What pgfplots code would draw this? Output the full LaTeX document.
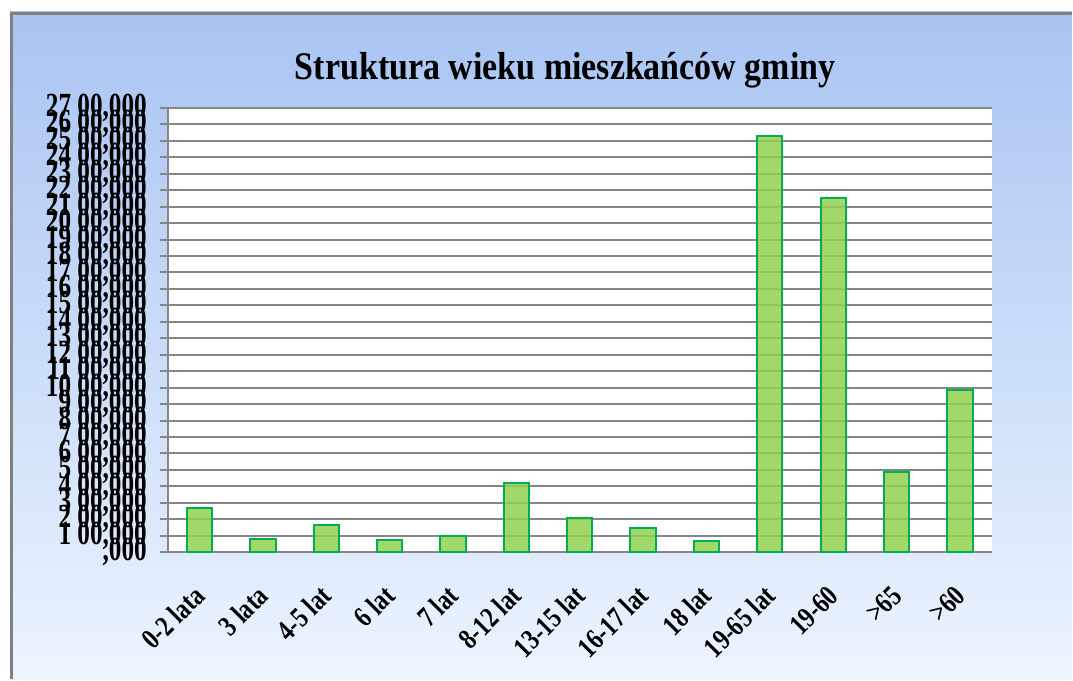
\documentclass[border=0pt]{standalone}
\usepackage{fontspec}
\setmainfont{Liberation Serif}
\usepackage{pgfplots}
\pgfplotsset{compat=1.18}
\definecolor{bgtop}{RGB}{168,196,242}
\definecolor{bgbot}{RGB}{236,244,254}
\definecolor{barfill}{RGB}{146,208,80}
\definecolor{baredge}{RGB}{0,176,80}
\definecolor{gridc}{RGB}{134,134,134}
\newcommand\yl[1]{\scalebox{0.97}[1.3]{#1}}
\newcommand\xl[1]{\scalebox{0.9}[1.12]{#1}}
\begin{document}
\begin{tikzpicture}[x=1pt,y=1pt]
\fill[white] (0,0) rectangle (536.5,340);
\shade[top color=bgtop, bottom color=bgbot] (5,0) rectangle (536.5,334);
\draw[gray, line width=1.5pt] (5.75,0) -- (5.75,333.25) -- (536.5,333.25);
\node[font=\fontsize{17}{20}\selectfont\bfseries] at (283,305) {\scalebox{1}[1.15]{Struktura wieku mieszkańców gminy}};
\begin{axis}[
  at={(84pt,63.5pt)}, anchor=south west,
  scale only axis, width=412.5pt, height=222.5pt,
  axis background/.style={fill=white},
  xmin=-0.5, xmax=12.5, ymin=0, ymax=2700,
  axis x line*=bottom, axis y line*=left,
  axis line style={gridc, line width=1pt, -},
  ytick={0,100,...,2700},
  yticklabels={\yl{,000},\yl{1 00,000},\yl{2 00,000},\yl{3 00,000},\yl{4 00,000},\yl{5 00,000},\yl{6 00,000},\yl{7 00,000},\yl{8 00,000},\yl{9 00,000},\yl{10 00,000},\yl{11 00,000},\yl{12 00,000},\yl{13 00,000},\yl{14 00,000},\yl{15 00,000},\yl{16 00,000},\yl{17 00,000},\yl{18 00,000},\yl{19 00,000},\yl{20 00,000},\yl{21 00,000},\yl{22 00,000},\yl{23 00,000},\yl{24 00,000},\yl{25 00,000},\yl{26 00,000},\yl{27 00,000}},
  xtick={0,...,12},
  xticklabels={\xl{0-2 lata},\xl{3 lata},\xl{4-5 lat},\xl{6 lat},\xl{7 lat},\xl{8-12 lat},\xl{13-15 lat},\xl{16-17 lat},\xl{18 lat},\xl{19-65 lat},\xl{19-60},\xl{>65},\xl{>60}},
  x tick style={draw=none},
  extra x ticks={-0.5,0.5,...,12.5},
  extra x tick labels={},
  extra x tick style={major tick length=4pt, tick style={draw=gridc, line width=1pt}},
  tick align=outside, major tick length=4pt,
  y tick style={gridc, line width=1pt},
  ymajorgrids, major grid style={gridc, line width=1pt},
  ticklabel style={font=\fontsize{13}{13}\selectfont\bfseries},
  yticklabel style={anchor=east, xshift=-3pt},
  xticklabel style={xshift=2.5pt, yshift=-13pt, rotate=45, anchor=east},
  ybar, bar width=0.4,
  clip=false,
]
\addplot[fill=barfill, fill opacity=0.85, draw=baredge, line width=1pt] coordinates {
(0,270) (1,80) (2,165) (3,76) (4,100) (5,420) (6,208) (7,145) (8,70) (9,2528) (10,2150) (11,490) (12,985)
};
\end{axis}
\end{tikzpicture}
\end{document}
